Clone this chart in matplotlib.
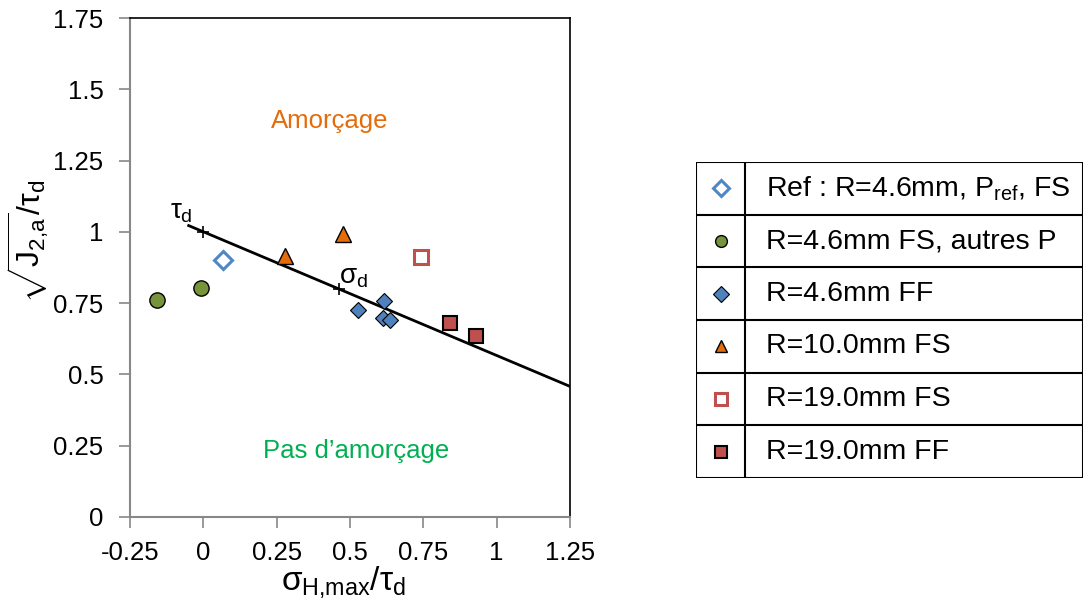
import matplotlib
matplotlib.use("Agg")
import matplotlib.pyplot as plt
from matplotlib.lines import Line2D

plt.rcParams['font.family'] = ['Liberation Sans', 'DejaVu Sans']
plt.rcParams['mathtext.fontset'] = 'custom'
plt.rcParams['mathtext.rm'] = 'Liberation Sans'
plt.rcParams['mathtext.it'] = 'Liberation Sans'
plt.rcParams['mathtext.bf'] = 'Liberation Sans:bold'

# ---------------- data ----------------
ref_x = [0.067]
ref_y = [0.90]
green_x = [-0.157, -0.008]
green_y = [0.761, 0.804]
ff46_x = [0.527, 0.615, 0.612, 0.636]
ff46_y = [0.726, 0.759, 0.697, 0.691]
fs10_x = [0.277, 0.477]
fs10_y = [0.915, 0.991]
fs19_x = [0.743]
fs19_y = [0.911]
ff19_x = [0.840, 0.929]
ff19_y = [0.681, 0.635]
crit_x = [-0.05, 1.25]
crit_y = [1.022, 0.458]
pts_x = [0.0, 0.461]
pts_y = [1.0, 0.80]
xticks = [-0.25, 0, 0.25, 0.5, 0.75, 1, 1.25]
xticklabels = ['-0.25', '0', '0.25', '0.5', '0.75', '1', '1.25']
yticks = [0, 0.25, 0.5, 0.75, 1, 1.25, 1.5, 1.75]
yticklabels = ['0', '0.25', '0.5', '0.75', '1', '1.25', '1.5', '1.75']
legend_labels = [r'Ref : R=4.6mm, P$_{\mathrm{ref}}$, FS',
                 'R=4.6mm FS, autres P',
                 'R=4.6mm FF',
                 'R=10.0mm FS',
                 'R=19.0mm FS',
                 'R=19.0mm FF']

# ---------------- styles ----------------
c_ref = '#4F86C6'
c_green = '#77933C'
c_blue = '#4F81BD'
c_orange = '#E46C0A'
c_red = '#C0504D'
styles = [
    dict(marker='D', ms=9, mfc='white', mec=c_ref, mew=2.2),
    dict(marker='o', ms=11, mfc=c_green, mec='black', mew=1.0),
    dict(marker='D', ms=8.5, mfc=c_blue, mec='black', mew=0.8),
    dict(marker='^', ms=11, mfc=c_orange, mec='black', mew=1.0),
    dict(marker='s', ms=10, mfc='white', mec=c_red, mew=2.2),
    dict(marker='s', ms=10, mfc=c_red, mec='black', mew=1.5),
]
series = [(ref_x, ref_y), (green_x, green_y), (ff46_x, ff46_y),
          (fs10_x, fs10_y), (fs19_x, fs19_y), (ff19_x, ff19_y)]

fig = plt.figure(figsize=(10.87, 6.10), dpi=100)
ax = fig.add_axes([130/1087, 93/610, 440/1087, 499/610])

ax.plot(crit_x, crit_y, color='black', lw=2, zorder=2)
ax.plot(pts_x, pts_y, ls='none', marker='+', ms=9, mew=1.2, color='black', zorder=3)
for (xs, ys), st in zip(series, styles):
    ax.plot(xs, ys, ls='none', zorder=4, **st)

ax.set_xlim(-0.25, 1.25)
ax.set_ylim(0, 1.75)
ax.set_xticks(xticks)
ax.set_xticklabels(xticklabels)
ax.set_yticks(yticks)
ax.set_yticklabels(yticklabels)
ax.tick_params(axis='both', direction='out', length=8, width=1.2, color='#888888',
               labelsize=18.5)
ax.tick_params(axis='y', pad=11)
ax.tick_params(axis='x', pad=9)
for s in ['left', 'bottom']:
    ax.spines[s].set_color('#888888')
    ax.spines[s].set_linewidth(1.5)
for s in ['top', 'right']:
    ax.spines[s].set_color('black')
    ax.spines[s].set_linewidth(1.2)

ax.set_xlabel(r'$\sigma_{\mathrm{H{,}max}}/\tau_{\mathrm{d}}$', fontsize=24)
ax.xaxis.set_label_coords(0.484, -0.095)
ax.set_ylabel(r'$\sqrt{\mathrm{J}_{\mathrm{2{,}a}}}/\tau_{\mathrm{d}}$', fontsize=23)
ax.yaxis.set_label_coords(-0.18, 0.553)

ax.text(0.43, 1.39, 'Amorçage', color=c_orange, fontsize=18.5, ha='center', va='center')
ax.text(0.52, 0.23, 'Pas d\u2019amorçage', color='#00B050', fontsize=18.5, ha='center', va='center')
ax.text(-0.075, 1.07, r'$\tau_{\mathrm{d}}$', fontsize=20, ha='center', va='center')
ax.text(0.51, 0.84, r'$\sigma_{\mathrm{d}}$', fontsize=20, ha='center', va='center')

# ---------------- table legend ----------------
lx0, lx1 = 696/1087, 1083/1087
ly0, ly1 = (610-478)/610, (610-162)/610
lax = fig.add_axes([lx0, ly0, lx1-lx0, ly1-ly0])
lax.set_xlim(0, 1)
lax.set_ylim(0, 6)
lax.axis('off')
n = len(legend_labels)
div = (745-696)/(1083-696)
for i in range(n+1):
    lax.add_line(Line2D([0, 1], [i, i], color='black', lw=1.5))
for xv in [0, div, 1]:
    lax.add_line(Line2D([xv, xv], [0, n], color='black', lw=1.5))
for i, (lab, st) in enumerate(zip(legend_labels, styles)):
    yc = n - i - 0.5
    s2 = dict(st)
    s2['ms'] = 8.5 if st['marker'] == 'o' else 8
    lax.plot([div/2], [yc], ls='none', clip_on=False, **s2)
    lax.text(div + 0.055, yc, lab, fontsize=20.5, va='center', ha='left')

fig.savefig('out.png', dpi=100)
